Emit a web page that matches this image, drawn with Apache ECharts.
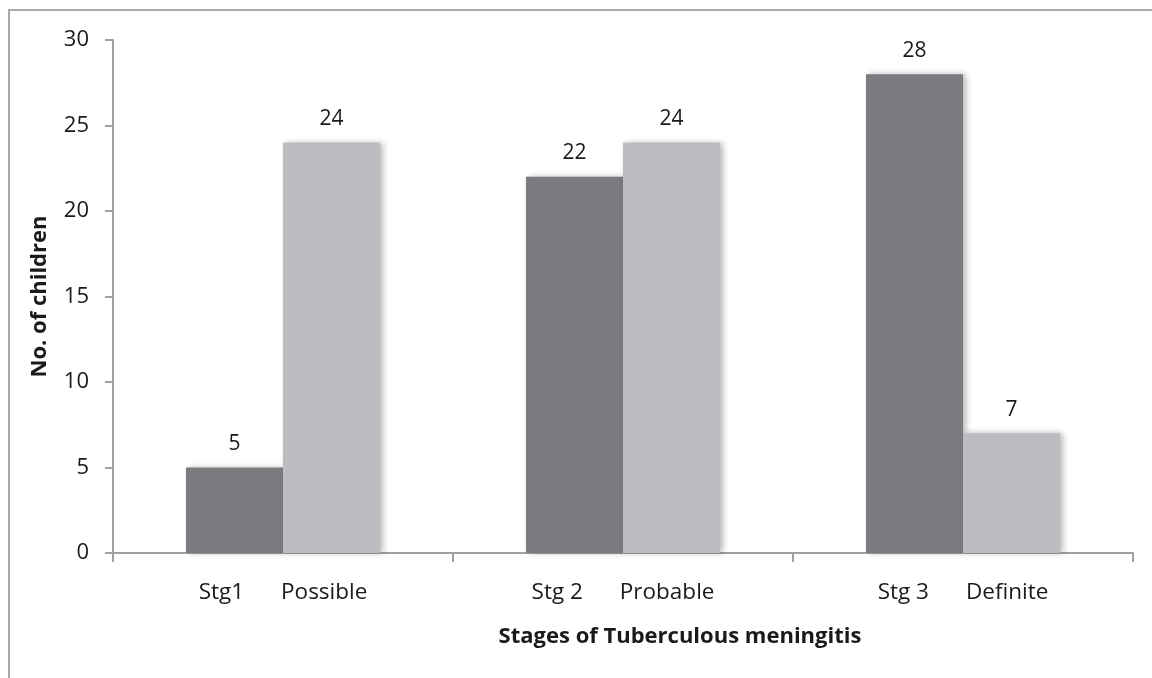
<!DOCTYPE html>
<html>
<head>
<meta charset="utf-8">
<script src="https://cdn.jsdelivr.net/npm/echarts@6/dist/echarts.min.js"></script>
<style>
html,body{margin:0;padding:0;background:#fff;}
#chart{width:1152px;height:678px;}
</style>
</head>
<body>
<div id="chart"></div>
<script>
var stageLabels = ['Stg1', 'Stg 2', 'Stg 3'];
var diagLabels = ['Possible', 'Probable', 'Definite'];
var stageValues = [5, 22, 28];
var diagValues = [24, 24, 7];
var yTicks = [0, 5, 10, 15, 20, 25, 30];
var xTitle = 'Stages of Tuberculous meningitis';
var yTitle = 'No. of children';

var FONT = '"Open Sans", sans-serif';
var chart = echarts.init(document.getElementById('chart'));
var cats = stageLabels.map(function (s, i) { return s + '|' + diagLabels[i]; });

var barStyleCommon = {
  shadowColor: 'rgba(0,0,0,0.28)',
  shadowBlur: 6,
  shadowOffsetX: 3,
  shadowOffsetY: 0
};
var labelCommon = {
  show: true,
  position: 'top',
  distance: 13,
  color: '#1a1a1a',
  fontSize: 21,
  fontFamily: FONT
};

chart.setOption({
  backgroundColor: '#ffffff',
  animation: false,
  graphic: [{
    type: 'rect',
    shape: { x: 9, y: 10, width: 1300, height: 900 },
    style: { fill: 'none', stroke: '#a9a9a9', lineWidth: 2 },
    silent: true
  }, {
    type: 'text',
    x: 680,
    y: 637,
    style: {
      text: xTitle,
      fontSize: 22,
      fontWeight: 'bold',
      fontFamily: FONT,
      fill: '#1a1a1a',
      textAlign: 'center',
      textVerticalAlign: 'middle'
    },
    silent: true
  }],
  grid: { left: 113, right: 19, top: 40, bottom: 125, containLabel: false },
  xAxis: {
    type: 'category',
    data: cats,
    axisLine: { lineStyle: { color: '#a0a0a0', width: 2 } },
    axisTick: { show: true, alignWithLabel: false, length: 9, lineStyle: { color: '#a0a0a0', width: 2 } },
    axisLabel: {
      margin: 28,
      interval: 0,
      formatter: function (v) {
        var p = v.split('|');
        return '{a|' + p[0] + '}{g|}{a|' + p[1] + '}';
      },
      rich: {
        a: { fontSize: 22.5, color: '#1a1a1a', fontFamily: FONT },
        g: { width: 37 }
      }
    },
    splitLine: { show: false }
  },
  yAxis: {
    type: 'value',
    min: 0,
    max: 30,
    interval: 5,
    name: yTitle,
    nameLocation: 'middle',
    nameGap: 62,
    nameRotate: 90,
    nameTextStyle: { fontSize: 22, fontWeight: 'bold', color: '#1a1a1a', fontFamily: FONT },
    axisLine: { show: true, lineStyle: { color: '#a0a0a0', width: 2 } },
    axisTick: { show: true, length: 8, lineStyle: { color: '#a0a0a0', width: 2 } },
    axisLabel: {
      margin: 24,
      fontSize: 22,
      color: '#1a1a1a',
      fontFamily: FONT,
      formatter: function (v) { return yTicks.indexOf(v) >= 0 ? String(v) : ''; }
    },
    splitLine: { show: false }
  },
  series: [{
    type: 'bar',
    name: 'Stage',
    data: stageValues,
    barWidth: 97,
    barGap: '0%',
    barCategoryGap: '43%',
    itemStyle: Object.assign({ color: '#7b7c80' }, barStyleCommon),
    label: labelCommon
  }, {
    type: 'bar',
    name: 'Diagnosis',
    data: diagValues,
    barWidth: 97,
    barGap: '0%',
    itemStyle: Object.assign({ color: '#bcbdc1' }, barStyleCommon),
    label: labelCommon
  }]
});
</script>
</body>
</html>
